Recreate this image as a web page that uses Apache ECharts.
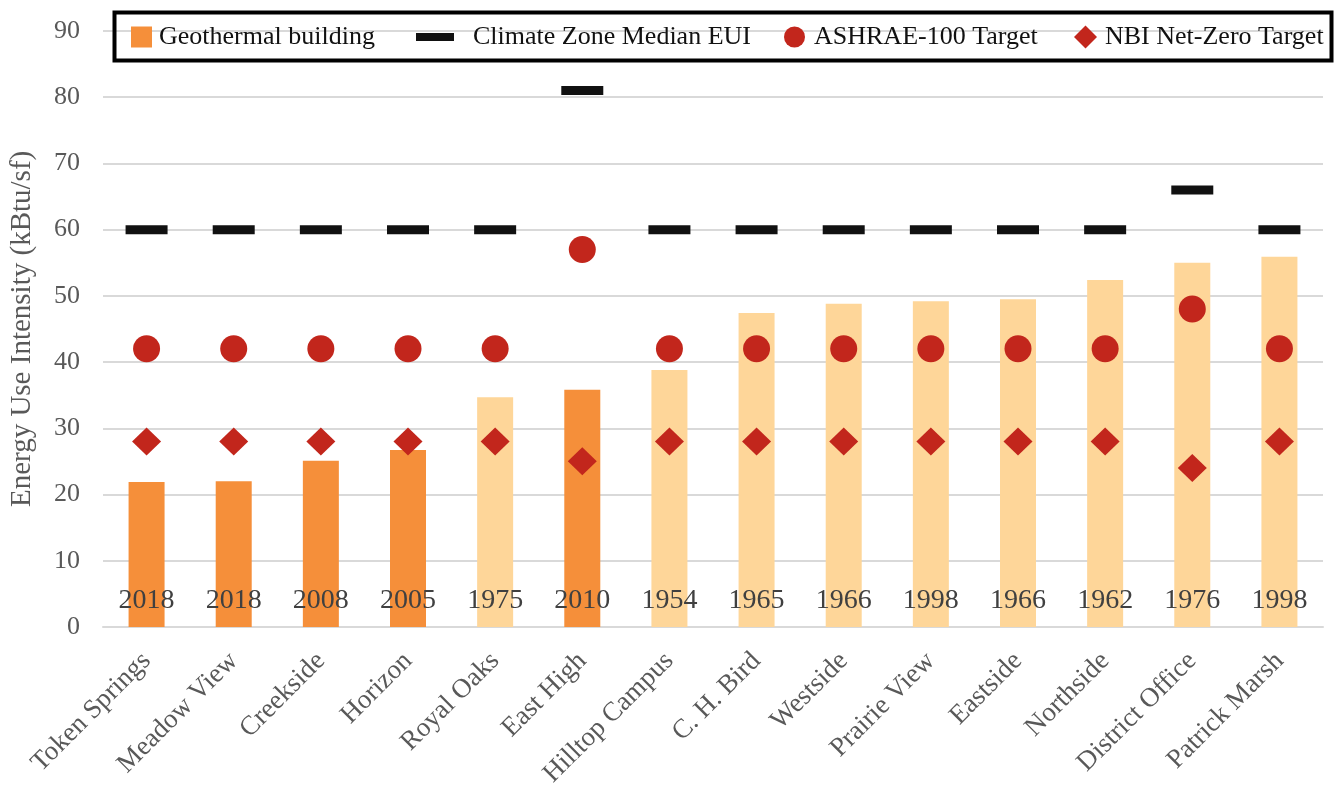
<!DOCTYPE html>
<html>
<head>
<meta charset="utf-8">
<script src="https://cdn.jsdelivr.net/npm/echarts@6/dist/echarts.min.js"></script>
<style>
    html, body { margin: 0; padding: 0; background: #fff; }
    #main { width: 1338px; height: 790px; }
</style>
</head>
<body>
<div id="main"></div>
<script>
    // building names along the x axis
    const buildings = ['Token Springs', 'Meadow View', 'Creekside', 'Horizon', 'Royal Oaks', 'East High',
        'Hilltop Campus', 'C. H. Bird', 'Westside', 'Prairie View', 'Eastside', 'Northside',
        'District Office', 'Patrick Marsh'];
    // year built, printed at the foot of each bar
    const years = [2018, 2018, 2008, 2005, 1975, 2010, 1954, 1965, 1966, 1998, 1966, 1962, 1976, 1998];
    // measured EUI (kBtu/sf)
    const eui = [21.9, 22.0, 25.1, 26.7, 34.7, 35.8, 38.8, 47.4, 48.8, 49.2, 49.5, 52.4, 55.0, 55.9];
    // does the building use geothermal
    const geothermal = [true, true, true, true, false, true, false, false, false, false, false, false, false, false];
    const medianEui = [60, 60, 60, 60, 60, 81, 60, 60, 60, 60, 60, 60, 66, 60];
    const ashraeTarget = [42, 42, 42, 42, 42, 57, 42, 42, 42, 42, 42, 42, 48, 42];
    const nbiTarget = [28, 28, 28, 28, 28, 25, 28, 28, 28, 28, 28, 28, 24, 28];
    const yTicks = [0, 90, 10]; // min, max, step

    const ORANGE = '#F58F3A';
    const LIGHT = '#FED699';
    const RED = '#C2261C';
    const FONT = '"Liberation Serif", "DejaVu Serif", serif';

    const barData = eui.map((v, i) => ({
        value: v,
        itemStyle: {color: geothermal[i] ? ORANGE : LIGHT}
    }));

    // one legend per entry so each sits where the original has it
    function legendItem(name, left, icon, w, h, gap) {
        return {
            left: left,
            top: 24,
            padding: 0,
            itemWidth: w,
            itemHeight: h,
            icon: icon,
            textStyle: {fontFamily: FONT, fontSize: 26, color: '#111', padding: [0, 0, 0, gap]},
            data: [name]
        };
    }

    const option = {
        animation: false,
        textStyle: {fontFamily: FONT},
        grid: {left: 99, right: 15, top: 31, bottom: 163},
        graphic: [{
            type: 'rect',
            left: 112,
            top: 10,
            shape: {width: 1217, height: 48},
            style: {fill: 'none', stroke: '#000', lineWidth: 4},
            z: 10
        }],
        legend: [
            legendItem('Geothermal building', 131, 'rect', 21, 21, 2),
            legendItem('Climate Zone Median EUI', 416, 'rect', 38, 8, 14),
            legendItem('ASHRAE-100 Target', 784, 'circle', 21, 21, 4),
            legendItem('NBI Net-Zero Target', 1074, 'diamond', 23, 23, 3)
        ],
        xAxis: {
            type: 'category',
            data: buildings,
            axisTick: {show: false},
            axisLine: {lineStyle: {color: '#d9d9d9', width: 2}},
            axisLabel: {rotate: 45, fontSize: 27, color: '#595959', margin: 30, fontFamily: FONT}
        },
        yAxis: {
            type: 'value',
            min: yTicks[0],
            max: yTicks[1],
            interval: yTicks[2],
            name: 'Energy Use Intensity (kBtu/sf)',
            nameLocation: 'middle',
            nameGap: 66,
            nameTextStyle: {fontSize: 29, color: '#595959', fontFamily: FONT},
            axisLabel: {fontSize: 26, color: '#595959', margin: 23, fontFamily: FONT},
            splitLine: {lineStyle: {color: '#d9d9d9', width: 2}}
        },
        series: [
            {
                name: 'Geothermal building',
                type: 'bar',
                barWidth: 36,
                itemStyle: {color: ORANGE},
                data: barData,
                label: {
                    show: true,
                    position: 'insideBottom',
                    distance: 12,
                    fontSize: 28,
                    color: '#404040',
                    fontFamily: FONT,
                    formatter: p => years[p.dataIndex]
                }
            },
            {
                name: 'Climate Zone Median EUI',
                type: 'scatter',
                symbol: 'rect',
                symbolSize: [42, 9],
                itemStyle: {color: '#111', opacity: 1},
                data: medianEui
            },
            {
                name: 'ASHRAE-100 Target',
                type: 'scatter',
                symbol: 'circle',
                symbolSize: 27,
                itemStyle: {color: RED, opacity: 1},
                data: ashraeTarget
            },
            {
                name: 'NBI Net-Zero Target',
                type: 'scatter',
                symbol: 'diamond',
                symbolSize: [29, 28],
                itemStyle: {color: RED, opacity: 1},
                data: nbiTarget
            }
        ]
    };

    const chart = echarts.init(document.getElementById('main'));
    chart.setOption(option);
</script>
</body>
</html>
